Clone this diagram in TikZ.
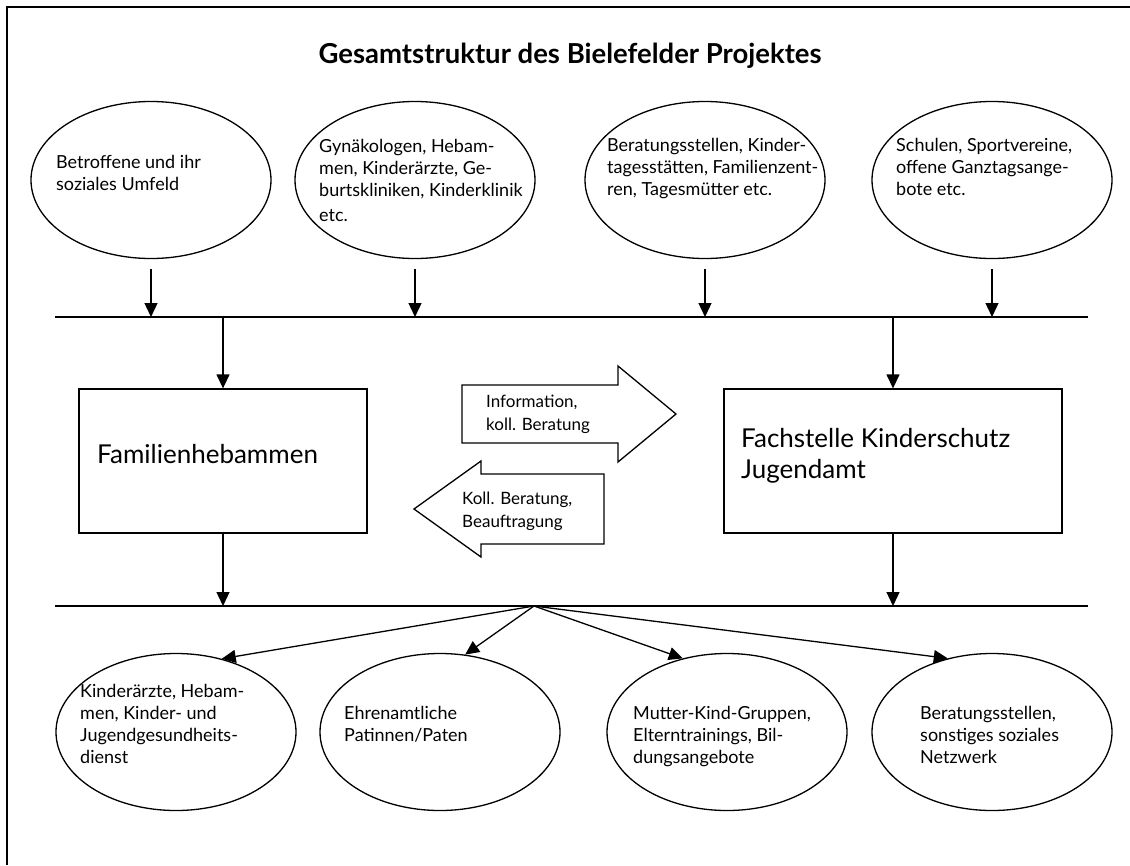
\documentclass[tikz,border=0pt]{standalone}
\usepackage{fontspec}
\setmainfont{Lato}
\usetikzlibrary{arrows.meta,shapes.geometric}
\newcommand{\txtlines}[1]{\begin{tabular}[t]{@{}l@{}}#1\end{tabular}}
\begin{document}
\begin{tikzpicture}[x=1pt,y=-1pt,
  blob/.style={draw, ellipse, minimum width=240pt, minimum height=157pt, inner sep=0pt, line width=1.3pt},
  box/.style={draw, rectangle, inner sep=0pt, line width=1.3pt},
  txt/.style={anchor=base west, inner sep=0pt, font=\fontsize{18}{22}\selectfont},
  smalltxt/.style={anchor=base west, inner sep=0pt, font=\fontsize{17}{23}\selectfont},
  bigtxt/.style={anchor=base west, inner sep=0pt, font=\fontsize{26}{31}\selectfont},
  flow/.style={-{Triangle[length=14pt,width=13pt]}, line width=1.3pt},
  bar/.style={line width=1.3pt},
  blockarrow/.style={draw, line width=1.3pt, line join=miter}
]
\useasboundingbox (0,0) rectangle (1130,865);

% frame
\draw[line width=1.6pt] (7,865) -- (7,7) -- (1130,7);

% title
\node[font=\fontsize{27.5}{32}\selectfont\bfseries, anchor=base] (title) at (570,63) {Gesamtstruktur des Bielefelder Projektes};

% upper row of partners
\node[blob] (t1) at (151,180) {};
\node[blob] (t2) at (415,180) {};
\node[blob] (t3) at (705,180) {};
\node[blob] (t4) at (992,180) {};
\node[txt] (t1x) at (56,168) {\txtlines{Betroffene und ihr\\soziales Umfeld}};
\node[txt] (t2x) at (319,152) {\txtlines{Gynäkologen, Hebam-\\men, Kinderärzte, Ge-\\burtskliniken, Kinderklinik\\[3pt]etc.}};
\node[txt] (t3x) at (607,151) {\txtlines{Beratungsstellen, Kinder-\\tagesstätten, Familienzent-\\ren, Tagesmütter etc.}};
\node[txt] (t4x) at (896,151) {\txtlines{Schulen, Sportvereine,\\offene Ganztagsange-\\bote etc.}};

% upper distribution line
\coordinate (upL) at (55,317);
\coordinate (upR) at (1088,317);
\draw[bar] (upL) -- (upR);
\foreach \n in {t1,t2,t3,t4}
  \draw[flow] ([yshift=-10pt]\n.south) -- (\n.south |- upL);

% central boxes
\node[box, minimum width=288pt, minimum height=144pt] (fh) at (223,461) {};
\node[box, minimum width=338pt, minimum height=144pt] (fs) at (893,461) {};
\node[bigtxt] (fhx) at (97,463) {Familienhebammen};
\node[bigtxt] (fsx) at (741,447) {\txtlines{Fachstelle Kinderschutz\\Jugendamt}};
\draw[flow] (fh.north |- upL) -- (fh.north);
\draw[flow] (fs.north |- upL) -- (fs.north);

% exchange between the two offices
\draw[blockarrow] (462,385) -- (618,385) -- (618,366) -- (676,414) -- (618,462)
  -- (618,443) -- (462,443) -- cycle;
\node[smalltxt] (infox) at (486,407) {\txtlines{Information,\\koll. Beratung}};
\draw[blockarrow] (604,474) -- (481,474) -- (481,461) -- (414,509) -- (481,557)
  -- (481,544) -- (604,544) -- cycle;
\node[smalltxt] (beratx) at (462,504) {\txtlines{Koll. Beratung,\\Beauftragung}};

% lower distribution line
\coordinate (loL) at (55,606);
\coordinate (loR) at (1088,606);
\coordinate (fan) at (534,606);
\draw[bar] (loL) -- (loR);
\draw[flow] (fh.south) -- (fh.south |- loL);
\draw[flow] (fs.south) -- (fs.south |- loL);

% lower row of offers
\node[blob] (b1) at (176,732) {};
\node[blob] (b2) at (440,732) {};
\node[blob] (b3) at (727,732) {};
\node[blob] (b4) at (992,732) {};
\node[txt] (b1x) at (80,697) {\txtlines{Kinderärzte, Hebam-\\men, Kinder- und\\Jugendgesundheits-\\dienst}};
\node[txt] (b2x) at (344,719) {\txtlines{Ehrenamtliche\\Patinnen/Paten}};
\node[txt] (b3x) at (633,719) {\txtlines{Mutter-Kind-Gruppen,\\Elterntrainings, Bil-\\dungsangebote}};
\node[txt] (b4x) at (920,719) {\txtlines{Beratungsstellen,\\sonstiges soziales\\Netzwerk}};

\draw[flow] (fan) -- (b1.58);
\draw[flow] (fan) -- (b2.72);
\draw[flow] (fan) -- (b3.121);
\draw[flow] (fan) -- (b4.121);
\end{tikzpicture}
\end{document}
